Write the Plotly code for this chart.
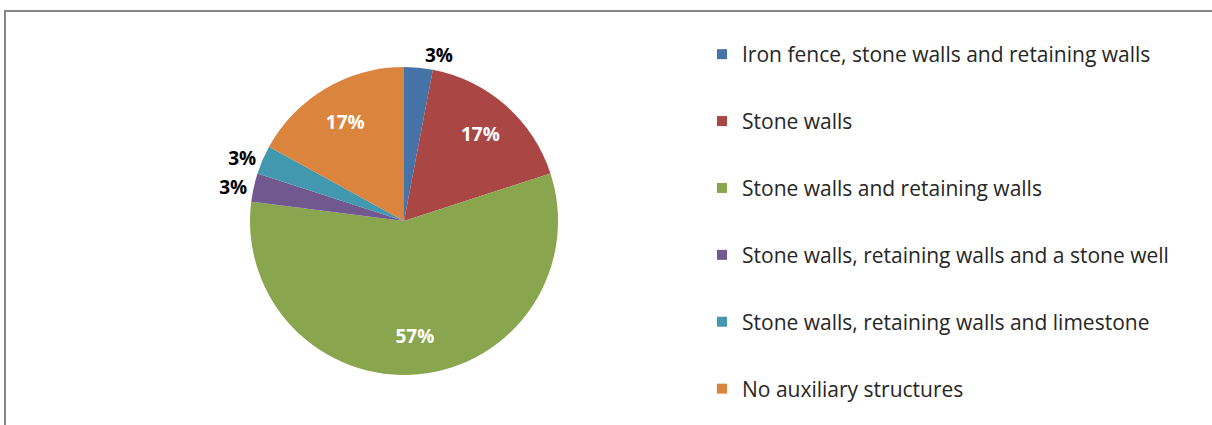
import plotly.graph_objects as go

# Share of sites by type of auxiliary structure (%)
categories = [
    "Iron fence, stone walls and retaining walls",
    "Stone walls",
    "Stone walls and retaining walls",
    "Stone walls, retaining walls and a stone well",
    "Stone walls, retaining walls and limestone",
    "No auxiliary structures",
]
shares = [3, 17, 57, 3, 3, 17]
colors = ["#4572A7", "#AA4643", "#89A54E", "#71588F", "#4198AF", "#DB843D"]
label_positions = ["outside", "inside", "inside", "outside", "outside", "inside"]

W, H = 1212, 425
FONT = "'Open Sans', sans-serif"
PIE_DOMAIN = dict(x=[250 / W, 558 / W], y=[(H - 375) / H, (H - 67) / H])

fig = go.Figure()

# Filled slices
fig.add_trace(go.Pie(
    labels=categories,
    values=shares,
    sort=False,
    direction="clockwise",
    rotation=0,
    marker=dict(colors=colors, line=dict(width=0)),
    textinfo="none",
    showlegend=False,
    hoverinfo="label+percent",
    domain=PIE_DOMAIN,
))

# Transparent ring on top carrying the data labels, so inside labels sit
# about three quarters of the way out from the centre
fig.add_trace(go.Pie(
    labels=categories,
    values=shares,
    sort=False,
    direction="clockwise",
    rotation=0,
    hole=0.5,
    marker=dict(colors=["rgba(0,0,0,0)"] * len(shares), line=dict(width=0)),
    texttemplate="%{value}%",
    textposition=label_positions,
    insidetextorientation="horizontal",
    insidetextfont=dict(family=FONT, size=19, color="white", weight="bold"),
    outsidetextfont=dict(family=FONT, size=19, color="black", weight="bold"),
    showlegend=False,
    hoverinfo="skip",
    domain=PIE_DOMAIN,
))

# Legend entries, one group per category so the rows can be spaced out
for i, (name, col) in enumerate(zip(categories, colors)):
    fig.add_trace(go.Scatter(
        x=[None], y=[None], mode="markers", name=name,
        legendgroup=f"g{i}",
        marker=dict(symbol="square", size=10, color=col),
    ))

# Chart area frame
fig.add_shape(
    type="rect", xref="paper", yref="paper",
    x0=5 / W, x1=1.05, y0=-0.05, y1=(H - 11) / H,
    line=dict(color="#868686", width=2), fillcolor="rgba(0,0,0,0)",
)

fig.update_layout(
    width=W, height=H,
    margin=dict(l=0, r=0, t=0, b=0),
    paper_bgcolor="white", plot_bgcolor="white",
    xaxis=dict(visible=False), yaxis=dict(visible=False),
    font=dict(family=FONT, size=21, color="#262626"),
    legend=dict(
        x=702 / W, y=(H - 34) / H, xanchor="left", yanchor="top",
        tracegroupgap=36.6, font=dict(family=FONT, size=21, color="#262626"),
        bgcolor="rgba(0,0,0,0)",
    ),
)

fig.write_html("out.html")
